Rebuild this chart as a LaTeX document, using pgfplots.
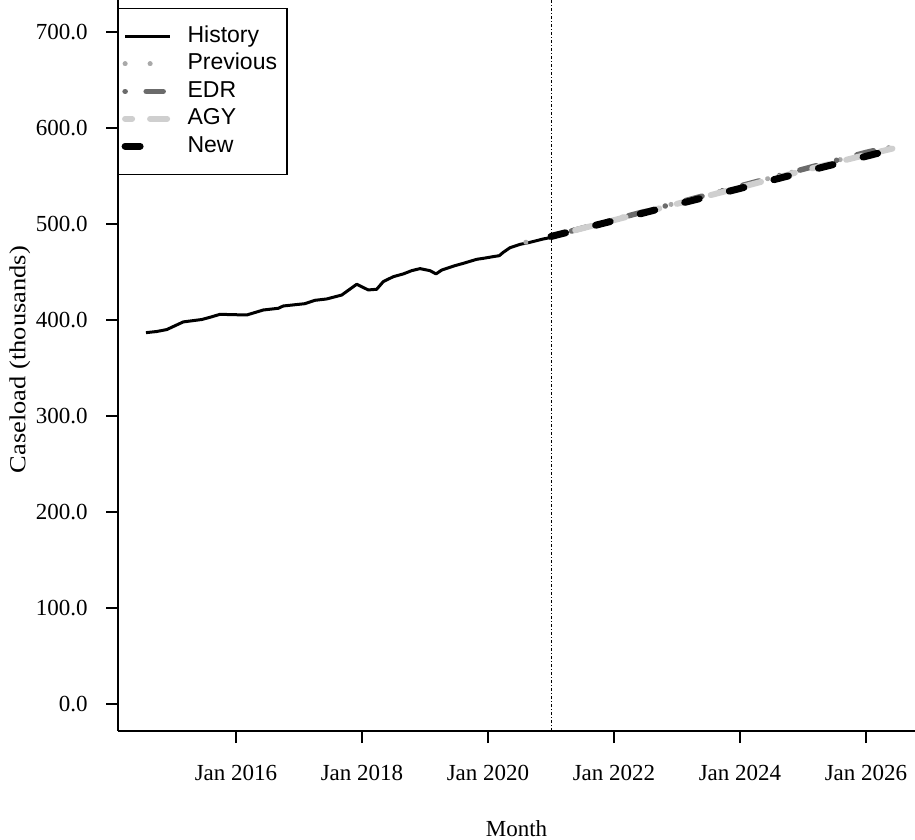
\documentclass[border=0pt]{standalone}
\usepackage{fontspec}
\setmainfont{Liberation Serif}
\newfontfamily\legendfont{Liberation Sans}
\usepackage{pgfplots}
\pgfplotsset{compat=1.18}

\definecolor{prevgray}{HTML}{A9A9A9}
\definecolor{edrgray}{HTML}{6B6B6B}
\definecolor{agygray}{HTML}{CFCFCF}

\newcommand\bigfont{\fontsize{23}{27}\selectfont}

\begin{document}
\begin{tikzpicture}
\begin{axis}[
    scale only axis,
    width=797pt, height=731pt,
    xmin=2014.127, xmax=2026.778,
    ymin=-28.1, ymax=733.3,
    axis x line*=bottom, axis y line*=left,
    axis line style={line width=1.4pt},
    tick style={line width=1.4pt, black},
    tick align=outside,
    major tick length=12pt,
    xtick={2016,2018,2020,2022,2024,2026},
    xticklabels={Jan 2016,Jan 2018,Jan 2020,Jan 2022,Jan 2024,Jan 2026},
    ytick={0,100,200,300,400,500,600,700},
    /pgf/number format/assume math mode=true,
    yticklabel style={/pgf/number format/fixed, /pgf/number format/fixed zerofill,
        /pgf/number format/precision=1, xshift=-15pt},
    every tick label/.append style={font=\bigfont},
    xticklabel style={yshift=-19pt},
    xlabel={Month}, ylabel={\scalebox{1.15}[1]{Caseload (thousands)}},
    label style={font=\bigfont},
    xlabel style={at={(axis description cs:0.5,-0.1335)}, anchor=center},
    ylabel style={at={(axis description cs:-0.123,0.508)}, anchor=center},
    clip=true,
    legend cell align=left,
    legend image code/.code={\draw[#1] (0pt,0pt) -- (45pt,0pt); \path (57pt,0pt);},
    legend style={at={(0,1)}, anchor=north west, yshift=-8pt,
        draw=black, line width=1.2pt, font=\legendfont\bigfont,
        inner xsep=3pt, inner ysep=15pt, row sep=1.4pt,
        nodes={inner sep=2pt, text height=17pt, text depth=5pt}},
]
\addplot[black, line width=3pt, line join=round] coordinates {
    (2014.571,386.8) (2014.741,388.0) (2014.900,390.0) (2015.163,398.0)
    (2015.456,400.5) (2015.587,402.8) (2015.746,405.9) (2016.170,405.2)
    (2016.433,410.4) (2016.671,412.2) (2016.751,414.6) (2017.095,417.0)
    (2017.254,420.5) (2017.440,421.9) (2017.678,426.0) (2017.916,437.2)
    (2018.100,431.3) (2018.233,432.0) (2018.338,440.0) (2018.497,445.1)
    (2018.656,448.0) (2018.789,451.4) (2018.921,453.5) (2019.079,451.4)
    (2019.175,448.0) (2019.265,452.0) (2019.476,456.6) (2019.608,459.0)
    (2019.821,463.2) (2019.925,464.2) (2020.084,466.0) (2020.179,467.0)
    (2020.243,470.5) (2020.349,475.3) (2020.508,478.8) (2020.667,480.9)
    (2020.878,484.4) (2021.011,486.1)
};
\addlegendentry{History}
\addplot[prevgray, line width=5pt, line cap=round, dash pattern=on 0.1pt off 24.9pt] coordinates {
    (2020.6,481.0) (2021,487.5) (2022,505.0) (2023,522.0) (2024,539.5)
    (2025,557.0) (2026,574.0) (2026.42,580.5)
};
\addlegendentry{Previous\hspace*{5pt}}
\addplot[edrgray, line width=5.5pt, line cap=round, dash pattern=on 0.1pt off 21pt on 17pt off 21pt] coordinates {
    (2021,487.0) (2022,504.5) (2023,522.0) (2024,539.5) (2025,557.0)
    (2026,574.5) (2026.42,581.0)
};
\addlegendentry{EDR}
\addplot[agygray, line width=6pt, line cap=round, dash pattern=on 17pt off 18pt, dash phase=10pt] coordinates {
    (2021,487.0) (2022,504.0) (2023,521.0) (2024,538.0) (2025,555.5)
    (2026,572.0) (2026.42,578.5)
};
\addlegendentry{AGY}
\addplot[black, line width=7pt, line cap=round, dash pattern=on 15pt off 31pt] coordinates {
    (2021,487.0) (2022,503.5) (2023,520.5) (2024,537.0) (2025,554.0)
    (2026,570.5) (2026.42,577.5)
};
\addlegendentry{New}
\draw[black, line width=0.7pt, dash pattern=on 3pt off 2pt on 1pt off 2pt]
    (axis cs:2021.0,-28.1) -- (axis cs:2021.0,733.3);
\end{axis}
\pgfresetboundingbox
\path[use as bounding box] (current axis.south west) ++(-118pt,-109pt) rectangle (current axis.north east);
\end{tikzpicture}
\end{document}
